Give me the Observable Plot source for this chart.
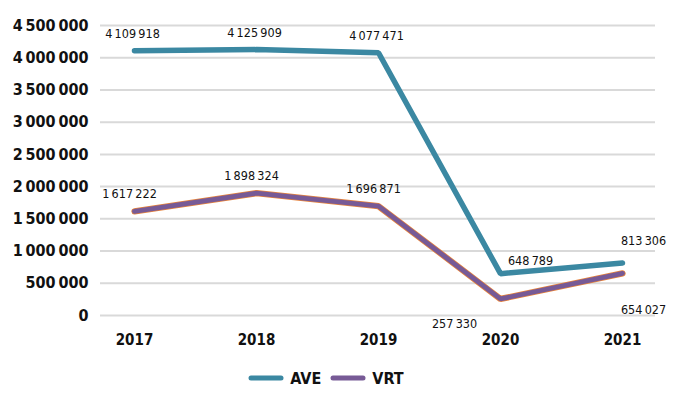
<!DOCTYPE html>
<html>
<head>
<meta charset="utf-8">
<script src="https://cdn.jsdelivr.net/npm/d3@7"></script>
<script src="https://cdn.jsdelivr.net/npm/@observablehq/plot@0.6"></script>
<style>
  html, body { margin: 0; padding: 0; background: #fff; }
  body { width: 696px; height: 401px; overflow: hidden; font-family: "DejaVu Sans Condensed", "DejaVu Sans", sans-serif; font-stretch: condensed; }
  svg text { font-stretch: condensed; }
  #legend { display: flex; justify-content: center; align-items: center; gap: 9px; height: 36px; margin-left: -44px; font-weight: bold; font-size: 16px; color: #111; }
  #legend .item { display: flex; align-items: center; gap: 6px; }
</style>
</head>
<body>
<div id="chart"></div>
<div id="legend"></div>
<script>
const years = ["2017", "2018", "2019", "2020", "2021"];
const aveValues = [4109918, 4125909, 4077471, 648789, 813306];
const vrtValues = [1617222, 1898324, 1696871, 257330, 654027];
const yTicks = [0, 500000, 1000000, 1500000, 2000000, 2500000, 3000000, 3500000, 4000000, 4500000];

const AVE_COLOR = "#3b88a2";
const VRT_COLOR = "#775a96";
const VRT_EDGE = "#e8843c";

const fmt = v => d3.format(",")(v).replace(/,/g, "\u2009");
const fmtAxis = v => d3.format(",")(v).replace(/,/g, "\u2009");

const ave = years.map((y, i) => ({year: y, value: aveValues[i], i}));
const vrt = years.map((y, i) => ({year: y, value: vrtValues[i], i}));

const FONT = "DejaVu Sans Condensed, DejaVu Sans, sans-serif";
const labelFont = {fontSize: 12.5, fill: "#111", fontFamily: FONT};

const chart = Plot.plot({
  width: 696,
  height: 360,
  marginLeft: 100,
  marginRight: 41,
  marginTop: 25,
  marginBottom: 45,
  style: {fontFamily: FONT, background: "#fff"},
  x: {type: "point", domain: years, range: [134, 622], padding: 0},
  y: {domain: [0, 4500000], range: [315, 25]},
  marks: [
    Plot.gridY(yTicks, {stroke: "#d9d9d9", strokeOpacity: 1, strokeWidth: 2}),
    Plot.axisY(yTicks, {tickSize: 0, tickPadding: 12, tickFormat: fmtAxis, fontSize: 16, fontWeight: "bold", fill: "#111", label: null}),
    Plot.axisX({tickSize: 0, tickPadding: 19, fontSize: 15, fontWeight: "bold", fill: "#111", label: null}),
    Plot.line(ave, {x: "year", y: "value", stroke: AVE_COLOR, strokeWidth: 5.5, strokeLinejoin: "miter", strokeLinecap: "round"}),
    Plot.line(vrt, {x: "year", y: "value", stroke: VRT_EDGE, strokeWidth: 6.3, strokeLinejoin: "miter", strokeLinecap: "round"}),
    Plot.line(vrt, {x: "year", y: "value", stroke: VRT_COLOR, strokeWidth: 4.8, strokeLinejoin: "miter", strokeLinecap: "round"}),
    // AVE labels
    Plot.text(ave.filter(d => d.i < 3), {x: "year", y: "value", text: d => fmt(d.value), dy: -17, dx: -2, ...labelFont}),
    Plot.text(ave.filter(d => d.i === 3), {x: "year", y: "value", text: d => fmt(d.value), dy: -13, dx: 30, ...labelFont}),
    Plot.text(ave.filter(d => d.i === 4), {x: "year", y: "value", text: d => fmt(d.value), dy: -22, dx: 21, ...labelFont}),
    // VRT labels
    Plot.text(vrt.filter(d => d.i < 3), {x: "year", y: "value", text: d => fmt(d.value), dy: -17, dx: -5, ...labelFont}),
    Plot.text(vrt.filter(d => d.i === 3), {x: "year", y: "value", text: d => fmt(d.value), dy: 25, dx: -46, ...labelFont}),
    Plot.text(vrt.filter(d => d.i === 4), {x: "year", y: "value", text: d => fmt(d.value), dy: 37, dx: 21, ...labelFont})
  ]
});
document.getElementById("chart").appendChild(chart);

const legendItems = [{name: "AVE", color: AVE_COLOR}, {name: "VRT", color: VRT_COLOR}];
const legend = document.getElementById("legend");
for (const it of legendItems) {
  const el = document.createElement("div");
  el.className = "item";
  el.innerHTML = `<svg width="36" height="8"><line x1="3" y1="4" x2="33" y2="4" stroke="${it.color}" stroke-width="5" stroke-linecap="round"/></svg><span>${it.name}</span>`;
  legend.appendChild(el);
}
</script>
</body>
</html>
